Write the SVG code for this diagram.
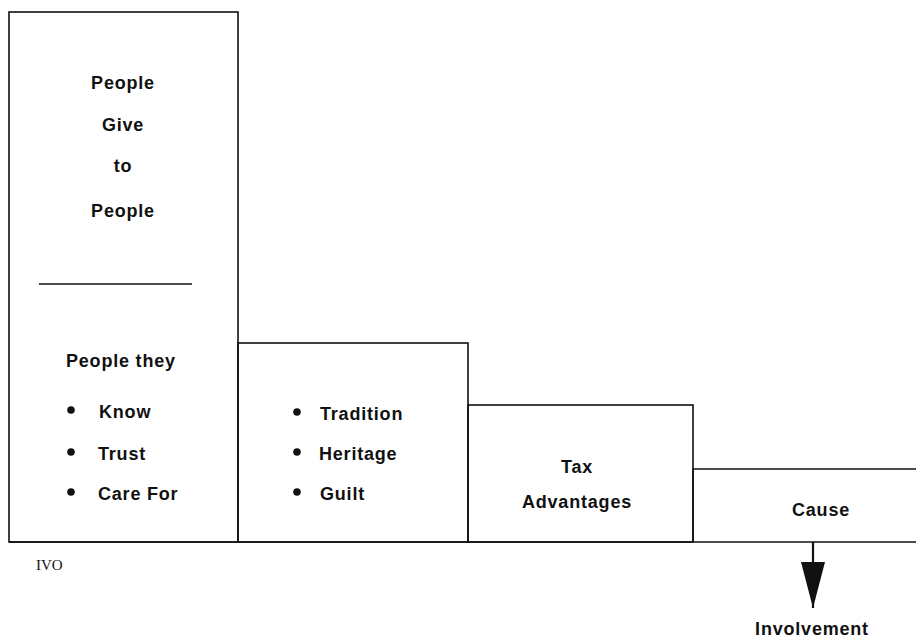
<svg xmlns="http://www.w3.org/2000/svg" width="916" height="638" viewBox="0 0 916 638">
  <style>
    .box { fill: none; stroke: #111; stroke-width: 1.6; }
    .lbl { font-family: "Liberation Sans", Arial, sans-serif; font-size: 18px; font-weight: bold; fill: #111; letter-spacing: 0.8px; }
    .mid { text-anchor: middle; }
    .dot { fill: #111; }
    .ivo { font-family: "Liberation Serif", "Times New Roman", serif; font-size: 15px; fill: #111; }
  </style>
  <defs>
    <!-- solid triangular arrowhead, drawn along +x so orient="auto" follows the line -->
    <marker id="head" markerWidth="46" markerHeight="24" refX="46" refY="12" orient="auto" markerUnits="userSpaceOnUse" viewBox="0 0 46 24">
      <path d="M0,0 L46,12 L0,24 Z" fill="#111"/>
    </marker>
  </defs>

  <g id="step-people">
    <rect class="box" x="9" y="12" width="229" height="530"/>
    <text class="lbl mid" x="123" y="89">People</text>
    <text class="lbl mid" x="123" y="131">Give</text>
    <text class="lbl mid" x="123" y="172">to</text>
    <text class="lbl mid" x="123" y="217">People</text>
    <line x1="39" y1="284" x2="192" y2="284" stroke="#111" stroke-width="1.4"/>
    <text class="lbl" x="66" y="367">People they</text>
    <circle class="dot" cx="71" cy="410" r="3.8"/>
    <text class="lbl" x="99" y="418">Know</text>
    <circle class="dot" cx="71" cy="452" r="3.8"/>
    <text class="lbl" x="98" y="460">Trust</text>
    <circle class="dot" cx="71" cy="492" r="3.8"/>
    <text class="lbl" x="98" y="500">Care For</text>
  </g>

  <g id="step-tradition">
    <rect class="box" x="238" y="343" width="230" height="199"/>
    <circle class="dot" cx="297" cy="412" r="3.8"/>
    <text class="lbl" x="320" y="420">Tradition</text>
    <circle class="dot" cx="297" cy="452" r="3.8"/>
    <text class="lbl" x="319" y="460">Heritage</text>
    <circle class="dot" cx="297" cy="492" r="3.8"/>
    <text class="lbl" x="320" y="500">Guilt</text>
  </g>

  <g id="step-tax">
    <rect class="box" x="468" y="405" width="225" height="137"/>
    <text class="lbl mid" x="577" y="473">Tax</text>
    <text class="lbl mid" x="577" y="508">Advantages</text>
  </g>

  <g id="step-cause">
    <path class="box" d="M693,542 V469 H916"/>
    <text class="lbl mid" x="821" y="516">Cause</text>
  </g>

  <g id="baseline">
    <line x1="9" y1="542" x2="916" y2="542" stroke="#111" stroke-width="1.6"/>
    <text class="ivo" x="36" y="570">IVO</text>
  </g>

  <g id="connectors">
    <line x1="813" y1="542" x2="813" y2="608" stroke="#111" stroke-width="2.2" marker-end="url(#head)"/>
  </g>

  <g id="involvement">
    <text class="lbl mid" x="812" y="635">Involvement</text>
  </g>
</svg>
